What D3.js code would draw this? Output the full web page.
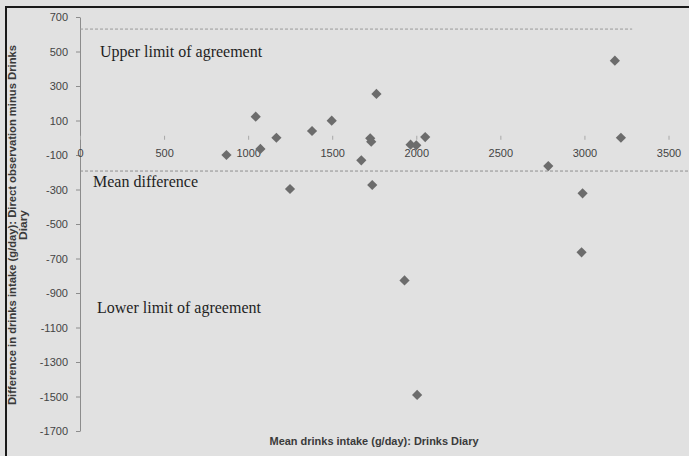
<!DOCTYPE html>
<html>
<head>
<meta charset="utf-8">
<script src="https://cdn.jsdelivr.net/npm/d3@7"></script>
<style>
  body { margin: 0; background: #e1e1e1; }
  svg { display: block; }
</style>
</head>
<body>
<svg id="chart"></svg>
<script>

// mean intake (g/day) and difference (g/day)
var meanIntake = [871, 1045, 1073, 1168, 1249, 1380, 1497, 1673, 1726, 1732, 1738, 1763,
  1930, 1966, 2000, 2005, 2053, 2785, 2983, 2989, 3181, 3217];
var diffIntake = [-100, 122, -65, 0, -297, 39, 99, -131, -3, -23, -274, 254,
  -827, -40, -44, -1491, 4, -164, -664, -322, 447, 0];

var xTicks = [0, 500, 1000, 1500, 2000, 2500, 3000, 3500];
var yTicks = [700, 500, 300, 100, -100, -300, -500, -700, -900, -1100, -1300, -1500, -1700];

// limits of agreement (only the upper one and the mean are drawn as lines)
var upperLimit = 630;
var meanDiff = -193;
var upperLineEnd = 3284;
var meanLineEnd = 3640;

var labels = [
  { text: "Upper limit of agreement", x: 100, y: 57 },
  { text: "Mean difference", x: 93, y: 187 },
  { text: "Lower limit of agreement", x: 97, y: 313 }
];

var width = 689, height = 456;

var svg = d3.select("#chart")
  .attr("width", width)
  .attr("height", height);

svg.append("rect")
  .attr("width", width)
  .attr("height", height)
  .attr("fill", "#e1e1e1");

// frame (top and left edges only are visible)
svg.append("line")
  .attr("x1", 5).attr("x2", width)
  .attr("y1", 7).attr("y2", 7)
  .attr("stroke", "#1a1a1a").attr("stroke-width", 2);
svg.append("line")
  .attr("x1", 6).attr("x2", 6)
  .attr("y1", 7).attr("y2", height)
  .attr("stroke", "#1a1a1a").attr("stroke-width", 2);

var xScale = d3.scaleLinear()
  .domain([0, 3500])
  .range([80, 668.5]);

var yScale = d3.scaleLinear()
  .domain([-1700, 700])
  .range([431, 17]);

var tickFont = "'Liberation Sans', Arial, sans-serif";
var plainFormat = d => String(d);   // keep ascii hyphen like the original

// y axis
var yAxis = d3.axisLeft(yScale)
  .tickValues(yTicks)
  .tickSizeInner(4)
  .tickSizeOuter(0)
  .tickPadding(8)
  .tickFormat(plainFormat);

var gy = svg.append("g")
  .attr("transform", `translate(${xScale(0)},0)`)
  .call(yAxis);
gy.select(".domain").attr("stroke", "#8c8c8c");
gy.selectAll(".tick line").attr("stroke", "#8c8c8c");
gy.selectAll(".tick text")
  .attr("fill", "#444")
  .style("font-family", tickFont)
  .style("font-size", "11px");

// x axis: no line, just small ticks at y = 0, labels a bit below
var x0 = yScale(0);
var xAxis = d3.axisBottom(xScale)
  .tickValues(xTicks)
  .tickSizeInner(4)
  .tickSizeOuter(0)
  .tickFormat(plainFormat);

var gx = svg.append("g")
  .attr("transform", `translate(0,${x0 - 2})`)
  .call(xAxis);
gx.select(".domain").remove();
gx.selectAll(".tick line").attr("stroke", "#a8a8a8");
gx.selectAll(".tick text")
  .attr("y", 17)
  .attr("dy", "0.35em")
  .attr("fill", "#444")
  .style("font-family", tickFont)
  .style("font-size", "11px");

// dashed reference lines
svg.append("line")
  .attr("x1", xScale(0)).attr("x2", xScale(upperLineEnd))
  .attr("y1", yScale(upperLimit)).attr("y2", yScale(upperLimit))
  .attr("stroke", "#9a9a9a")
  .attr("stroke-dasharray", "3,2");

svg.append("line")
  .attr("x1", xScale(0)).attr("x2", xScale(meanLineEnd))
  .attr("y1", yScale(meanDiff)).attr("y2", yScale(meanDiff))
  .attr("stroke", "#8f8f8f")
  .attr("stroke-dasharray", "3,2");

// annotation texts
svg.selectAll(".note")
  .data(labels)
  .enter()
  .append("text")
  .attr("class", "note")
  .attr("x", d => d.x)
  .attr("y", d => d.y)
  .attr("fill", "#1e1e1e")
  .style("font-family", "'Liberation Serif', 'Times New Roman', serif")
  .style("font-size", "16px")
  .text(d => d.text);

// points
var points = meanIntake.map((m, i) => ({ x: m, y: diffIntake[i] }));
var diamond = d3.symbol().type(d3.symbolSquare).size(52);

svg.selectAll(".pt")
  .data(points)
  .enter()
  .append("path")
  .attr("class", "pt")
  .attr("d", diamond)
  .attr("transform", d => `translate(${xScale(d.x)},${yScale(d.y)}) rotate(45)`)
  .attr("fill", "#6c6c6c");

// axis titles
var titleFont = "'Liberation Sans', Arial, sans-serif";

var yTitle = svg.append("text")
  .attr("transform", "translate(16,225) rotate(-90)")
  .attr("text-anchor", "middle")
  .attr("fill", "#3a3a3a")
  .style("font-family", titleFont)
  .style("font-weight", "bold")
  .style("font-size", "11px");
yTitle.append("tspan")
  .attr("x", 0).attr("dy", 0)
  .attr("textLength", 360)
  .attr("lengthAdjust", "spacingAndGlyphs")
  .text("Difference in drinks intake (g/day): Direct observation minus Drinks");
yTitle.append("tspan")
  .attr("x", 0).attr("dy", 11)
  .attr("textLength", 30)
  .attr("lengthAdjust", "spacingAndGlyphs")
  .text("Diary");

svg.append("text")
  .attr("x", 374)
  .attr("y", 445)
  .attr("text-anchor", "middle")
  .attr("textLength", 209)
  .attr("lengthAdjust", "spacingAndGlyphs")
  .attr("fill", "#3a3a3a")
  .style("font-family", titleFont)
  .style("font-weight", "bold")
  .style("font-size", "11px")
  .text("Mean drinks intake (g/day): Drinks Diary");

</script>
</body>
</html>
